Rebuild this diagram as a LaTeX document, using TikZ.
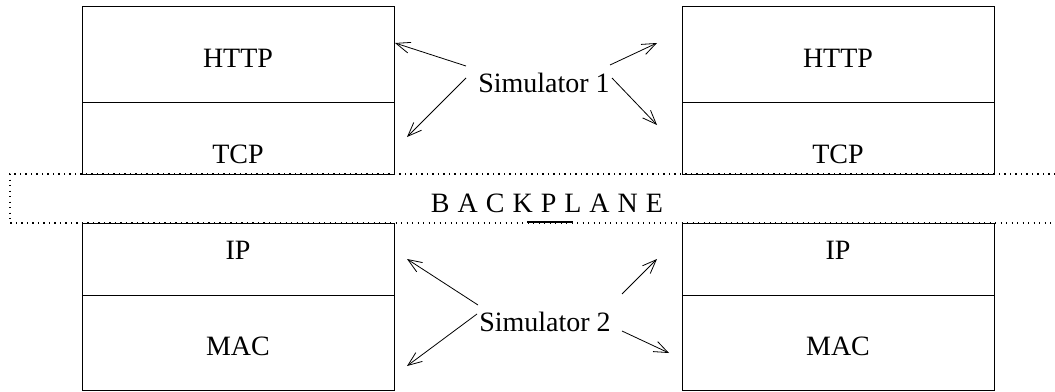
\documentclass[tikz,border=0pt]{standalone}
\usepackage{fontspec}
\setmainfont{Liberation Serif}
\usetikzlibrary{arrows.meta}
\begin{document}
\begin{tikzpicture}[x=1pt,y=-1pt,
  layer/.style={draw, line width=0.9pt, minimum width=312pt, inner sep=0pt, anchor=north west},
  lbl/.style={font=\fontsize{28}{32}\selectfont, inner sep=0pt, anchor=base},
  arr/.style={-{Straight Barb[length=14pt,width=11pt,line width=0.8pt]}, line width=0.8pt},
  bpline/.style={line width=1.2pt, dash pattern=on 1.2pt off 4.3pt}]
\useasboundingbox (0,0) rectangle (1055,391);
% backplane
\coordinate (bpTR) at (1055,174);
\coordinate (bpTL) at (10,174);
\coordinate (bpBL) at (10,223);
\coordinate (bpBR) at (1055,223);
\draw[bpline] (bpTR) -- (bpTL) -- (bpBL) -- (bpBR);
\node[lbl] (bp) at (547,212) {\spaceskip=8pt B A C K P L A N E};
\coordinate (segA) at (527,222);
\coordinate (segB) at (573,222);
\draw[line width=1.4pt] (segA) -- (segB);
% left stack
\node[layer, minimum height=96pt] (lhttp) at (82,6) {};
\node[layer, minimum height=72pt] (ltcp) at (82,102) {};
\node[layer, minimum height=72pt] (lip) at (82,223) {};
\node[layer, minimum height=95pt] (lmac) at (82,295) {};
% right stack
\node[layer, minimum height=96pt] (rhttp) at (682,6) {};
\node[layer, minimum height=72pt] (rtcp) at (682,102) {};
\node[layer, minimum height=72pt] (rip) at (682,223) {};
\node[layer, minimum height=95pt] (rmac) at (682,295) {};
% labels
\node[lbl] (tlhttp) at (238,67) {HTTP};
\node[lbl] (tltcp) at (238,163) {TCP};
\node[lbl] (tlip) at (238,259) {IP};
\node[lbl] (tlmac) at (238,355) {MAC};
\node[lbl] (trhttp) at (838,67) {HTTP};
\node[lbl] (trtcp) at (838,163) {TCP};
\node[lbl] (trip) at (838,259) {IP};
\node[lbl] (trmac) at (838,355) {MAC};
% simulators
\node[lbl] (sim1) at (544,92) {Simulator 1};
\node[lbl] (sim2) at (545,331) {Simulator 2};
% arrow coordinates
\coordinate (s1a) at (466,66);  \coordinate (t1a) at (395,43);
\coordinate (s1b) at (466,78);  \coordinate (t1b) at (407,137);
\coordinate (s1c) at (610,65);  \coordinate (t1c) at (657,43);
\coordinate (s1d) at (612,78);  \coordinate (t1d) at (657,125);
\coordinate (s2a) at (478,305); \coordinate (t2a) at (407,259);
\coordinate (s2b) at (477,314); \coordinate (t2b) at (407,366);
\coordinate (s2c) at (622,294); \coordinate (t2c) at (657,259);
\coordinate (s2d) at (622,331); \coordinate (t2d) at (669,353);
\draw[arr] (s1a) -- (t1a);
\draw[arr] (s1b) -- (t1b);
\draw[arr] (s1c) -- (t1c);
\draw[arr] (s1d) -- (t1d);
\draw[arr] (s2a) -- (t2a);
\draw[arr] (s2b) -- (t2b);
\draw[arr] (s2c) -- (t2c);
\draw[arr] (s2d) -- (t2d);
\end{tikzpicture}
\end{document}
